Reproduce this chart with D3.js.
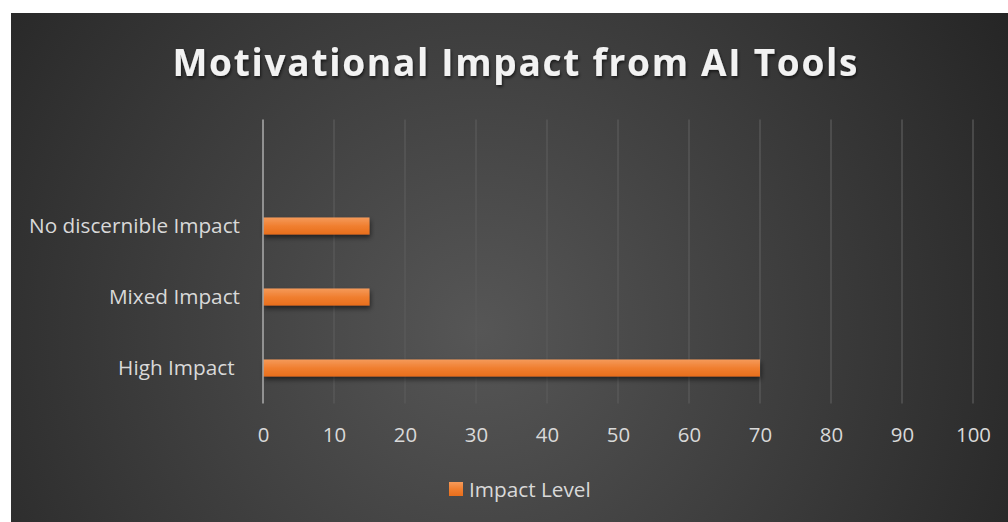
<!DOCTYPE html>
<html>
<head>
<meta charset="utf-8">
<script src="https://cdn.jsdelivr.net/npm/d3@7"></script>
<style>
  html, body { margin: 0; padding: 0; background: #ffffff; }
  svg { display: block; }
  text { font-family: "Open Sans", sans-serif; }
</style>
</head>
<body>
<div id="chart"></div>
<script>
const title = "Motivational Impact from AI Tools";
const categories = ["High Impact ", "Mixed Impact", "No discernible Impact", ""];
const values = [70, 15, 15, null];
const seriesName = "Impact Level";
const xTicks = [0, 10, 20, 30, 40, 50, 60, 70, 80, 90, 100];

const W = 1008, H = 522;
const svg = d3.select("#chart").append("svg").attr("width", W).attr("height", H);
const defs = svg.append("defs");

const bg = defs.append("radialGradient").attr("id", "bg")
  .attr("gradientUnits", "userSpaceOnUse")
  .attr("cx", 480).attr("cy", 330).attr("r", 620);
bg.append("stop").attr("offset", "0%").attr("stop-color", "#565656");
bg.append("stop").attr("offset", "100%").attr("stop-color", "#252525");

const barGrad = defs.append("linearGradient").attr("id", "barGrad")
  .attr("x1", 0).attr("y1", 0).attr("x2", 0).attr("y2", 1);
barGrad.append("stop").attr("offset", "0%").attr("stop-color", "#f59a5a");
barGrad.append("stop").attr("offset", "50%").attr("stop-color", "#f07f30");
barGrad.append("stop").attr("offset", "100%").attr("stop-color", "#e86e1c");

const shadow = defs.append("filter").attr("id", "barShadow")
  .attr("x", "-5%").attr("y", "-50%").attr("width", "110%").attr("height", "220%");
shadow.append("feDropShadow").attr("dx", 1).attr("dy", 3).attr("stdDeviation", 2.5)
  .attr("flood-color", "#000").attr("flood-opacity", 0.55);

const tshadow = defs.append("filter").attr("id", "titleShadow")
  .attr("x", "-5%").attr("y", "-30%").attr("width", "110%").attr("height", "160%");
tshadow.append("feDropShadow").attr("dx", 1).attr("dy", 2).attr("stdDeviation", 1.5)
  .attr("flood-color", "#000").attr("flood-opacity", 0.6);

svg.append("rect").attr("x", 11).attr("y", 13).attr("width", W - 11).attr("height", H - 13)
  .attr("fill", "url(#bg)");

const x = d3.scaleLinear().domain([0, 100]).range([263, 973]);
const y = d3.scaleBand().domain(categories).range([403.5, 119.5])
  .paddingInner(0.76).paddingOuter(0.38);

// fit label font size so the longest category spans the reference width
const probe = svg.append("text").attr("font-size", 20).text("No discernible Impact");
const labelSize = 20 * 211 / probe.node().getComputedTextLength();
probe.remove();
const probe2 = svg.append("text").attr("font-size", 20).text("100");
const tickSize = 20 * 35 / probe2.node().getComputedTextLength();
probe2.remove();

// gridlines
svg.append("g").selectAll("line").data(xTicks.slice(1)).join("line")
  .attr("x1", d => x(d)).attr("x2", d => x(d))
  .attr("y1", 119.5).attr("y2", 403.5)
  .attr("stroke", "#5a5a5a").attr("stroke-width", 1.3);

// x axis tick labels
const xAxis = d3.axisBottom(x).tickValues(xTicks).tickSize(0).tickPadding(0);
const gx = svg.append("g").attr("transform", "translate(0,427)").call(xAxis);
gx.select(".domain").remove();
gx.selectAll("text").attr("fill", "#d9d9d9").attr("font-size", tickSize)
  .attr("dy", "0.72em").style("font-family", "'Open Sans', sans-serif");

// bars
const data = categories.map((c, i) => ({ c, v: values[i] })).filter(d => d.v != null);
svg.append("g").selectAll("rect").data(data).join("rect")
  .attr("x", x(0)).attr("y", d => y(d.c))
  .attr("width", d => x(d.v) - x(0)).attr("height", y.bandwidth())
  .attr("fill", "url(#barGrad)").attr("filter", "url(#barShadow)");

// vertical axis line at 0
svg.append("line").attr("x1", x(0)).attr("x2", x(0)).attr("y1", 119.5).attr("y2", 403.5)
  .attr("stroke", "#a6a6a6").attr("stroke-width", 1.6);

// y axis labels
const yAxis = d3.axisLeft(y).tickSize(0).tickPadding(0);
const gy = svg.append("g").attr("transform", `translate(${x(0) - 23},0)`).call(yAxis);
gy.select(".domain").remove();
gy.selectAll("text").attr("fill", "#d9d9d9").attr("font-size", labelSize)
  .style("white-space", "pre").style("font-family", "'Open Sans', sans-serif");

// title
const t = svg.append("text").attr("x", 515).attr("y", 76).attr("text-anchor", "middle")
  .attr("fill", "#f2f2f2").attr("font-size", 37).attr("font-weight", "bold")
  .attr("filter", "url(#titleShadow)").text(title);
const targetW = 685;
let w = t.node().getComputedTextLength();
const ls = (targetW - w) / (title.length - 1);
t.attr("letter-spacing", ls).attr("x", 515 + ls / 2);

// legend
const lg = svg.append("g").attr("transform", "translate(449,482)");
lg.append("rect").attr("width", 14).attr("height", 14).attr("fill", "url(#barGrad)");
lg.append("text").attr("x", 20).attr("y", 14.5).attr("fill", "#d9d9d9")
  .attr("font-size", labelSize).text(seriesName);
</script>
</body>
</html>
